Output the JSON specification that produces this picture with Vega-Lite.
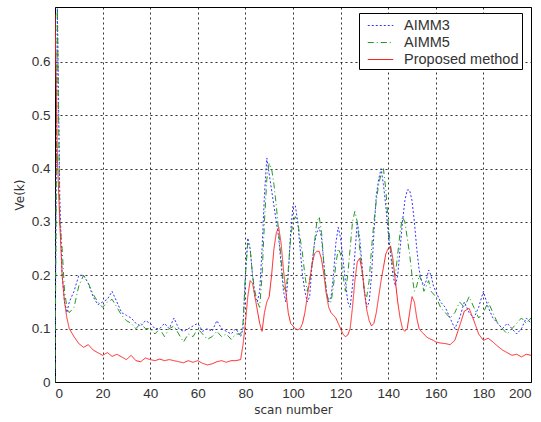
{
  "$schema": "https://vega.github.io/schema/vega-lite/v6.json",
  "width": 476,
  "height": 375,
  "autosize": {"type": "none"},
  "padding": {"left": 55, "top": 7, "right": 10, "bottom": 40},
  "background": "white",
  "config": {
    "font": "Liberation Sans",
    "view": {"stroke": "black", "strokeWidth": 1}
  },
  "data": {"values": [
    {"x":0,"AIMM3":0.02,"AIMM5":0.0,"Proposed method":0.69},
    {"x":1,"AIMM3":0.7,"AIMM5":0.7,"Proposed method":0.42},
    {"x":2,"AIMM3":0.35,"AIMM5":0.3,"Proposed method":0.3},
    {"x":3,"AIMM3":0.2,"AIMM5":0.25,"Proposed method":0.2},
    {"x":4,"AIMM3":0.15,"AIMM5":0.17,"Proposed method":0.15},
    {"x":5,"AIMM3":0.13,"AIMM5":0.14,"Proposed method":0.12},
    {"x":6,"AIMM3":0.15,"AIMM5":0.13,"Proposed method":0.1},
    {"x":8,"AIMM3":0.17,"AIMM5":0.14,"Proposed method":0.085},
    {"x":10,"AIMM3":0.2,"AIMM5":0.18,"Proposed method":0.072},
    {"x":12,"AIMM3":0.2,"AIMM5":0.2,"Proposed method":0.065},
    {"x":14,"AIMM3":0.185,"AIMM5":0.185,"Proposed method":0.07},
    {"x":16,"AIMM3":0.16,"AIMM5":0.165,"Proposed method":0.06},
    {"x":18,"AIMM3":0.145,"AIMM5":0.15,"Proposed method":0.055},
    {"x":20,"AIMM3":0.15,"AIMM5":0.14,"Proposed method":0.05},
    {"x":22,"AIMM3":0.155,"AIMM5":0.15,"Proposed method":0.055},
    {"x":24,"AIMM3":0.17,"AIMM5":0.155,"Proposed method":0.048},
    {"x":26,"AIMM3":0.15,"AIMM5":0.14,"Proposed method":0.052},
    {"x":28,"AIMM3":0.13,"AIMM5":0.125,"Proposed method":0.047},
    {"x":30,"AIMM3":0.125,"AIMM5":0.115,"Proposed method":0.042},
    {"x":32,"AIMM3":0.12,"AIMM5":0.11,"Proposed method":0.05},
    {"x":34,"AIMM3":0.11,"AIMM5":0.1,"Proposed method":0.04},
    {"x":36,"AIMM3":0.105,"AIMM5":0.11,"Proposed method":0.038},
    {"x":38,"AIMM3":0.115,"AIMM5":0.1,"Proposed method":0.045},
    {"x":40,"AIMM3":0.11,"AIMM5":0.1,"Proposed method":0.042},
    {"x":42,"AIMM3":0.1,"AIMM5":0.09,"Proposed method":0.04},
    {"x":44,"AIMM3":0.1,"AIMM5":0.1,"Proposed method":0.043},
    {"x":46,"AIMM3":0.11,"AIMM5":0.085,"Proposed method":0.04},
    {"x":48,"AIMM3":0.1,"AIMM5":0.1,"Proposed method":0.042},
    {"x":50,"AIMM3":0.12,"AIMM5":0.105,"Proposed method":0.04},
    {"x":52,"AIMM3":0.1,"AIMM5":0.09,"Proposed method":0.038},
    {"x":54,"AIMM3":0.095,"AIMM5":0.075,"Proposed method":0.036},
    {"x":56,"AIMM3":0.1,"AIMM5":0.09,"Proposed method":0.04},
    {"x":58,"AIMM3":0.105,"AIMM5":0.085,"Proposed method":0.037},
    {"x":60,"AIMM3":0.11,"AIMM5":0.1,"Proposed method":0.04},
    {"x":62,"AIMM3":0.095,"AIMM5":0.09,"Proposed method":0.035},
    {"x":64,"AIMM3":0.1,"AIMM5":0.08,"Proposed method":0.032},
    {"x":66,"AIMM3":0.095,"AIMM5":0.085,"Proposed method":0.034},
    {"x":68,"AIMM3":0.115,"AIMM5":0.095,"Proposed method":0.038},
    {"x":70,"AIMM3":0.1,"AIMM5":0.085,"Proposed method":0.04},
    {"x":72,"AIMM3":0.095,"AIMM5":0.09,"Proposed method":0.037},
    {"x":74,"AIMM3":0.09,"AIMM5":0.08,"Proposed method":0.04},
    {"x":76,"AIMM3":0.1,"AIMM5":0.09,"Proposed method":0.04},
    {"x":78,"AIMM3":0.085,"AIMM5":0.09,"Proposed method":0.042},
    {"x":79,"AIMM3":0.1,"AIMM5":0.11,"Proposed method":0.07},
    {"x":80,"AIMM3":0.2,"AIMM5":0.2,"Proposed method":0.11},
    {"x":81,"AIMM3":0.27,"AIMM5":0.26,"Proposed method":0.16},
    {"x":82,"AIMM3":0.25,"AIMM5":0.25,"Proposed method":0.19},
    {"x":83,"AIMM3":0.2,"AIMM5":0.2,"Proposed method":0.185},
    {"x":84,"AIMM3":0.16,"AIMM5":0.17,"Proposed method":0.16},
    {"x":85,"AIMM3":0.15,"AIMM5":0.15,"Proposed method":0.135},
    {"x":86,"AIMM3":0.17,"AIMM5":0.14,"Proposed method":0.11},
    {"x":87,"AIMM3":0.25,"AIMM5":0.2,"Proposed method":0.095},
    {"x":88,"AIMM3":0.35,"AIMM5":0.3,"Proposed method":0.13},
    {"x":89,"AIMM3":0.42,"AIMM5":0.38,"Proposed method":0.15},
    {"x":90,"AIMM3":0.39,"AIMM5":0.41,"Proposed method":0.16},
    {"x":91,"AIMM3":0.36,"AIMM5":0.4,"Proposed method":0.2},
    {"x":92,"AIMM3":0.33,"AIMM5":0.37,"Proposed method":0.25},
    {"x":93,"AIMM3":0.3,"AIMM5":0.33,"Proposed method":0.28},
    {"x":94,"AIMM3":0.27,"AIMM5":0.28,"Proposed method":0.29},
    {"x":95,"AIMM3":0.22,"AIMM5":0.23,"Proposed method":0.26},
    {"x":96,"AIMM3":0.17,"AIMM5":0.18,"Proposed method":0.21},
    {"x":97,"AIMM3":0.15,"AIMM5":0.17,"Proposed method":0.17},
    {"x":98,"AIMM3":0.2,"AIMM5":0.21,"Proposed method":0.13},
    {"x":99,"AIMM3":0.28,"AIMM5":0.27,"Proposed method":0.11},
    {"x":100,"AIMM3":0.33,"AIMM5":0.3,"Proposed method":0.105},
    {"x":101,"AIMM3":0.33,"AIMM5":0.31,"Proposed method":0.1},
    {"x":102,"AIMM3":0.3,"AIMM5":0.3,"Proposed method":0.098},
    {"x":103,"AIMM3":0.25,"AIMM5":0.27,"Proposed method":0.1},
    {"x":104,"AIMM3":0.2,"AIMM5":0.24,"Proposed method":0.11},
    {"x":105,"AIMM3":0.17,"AIMM5":0.2,"Proposed method":0.13},
    {"x":106,"AIMM3":0.15,"AIMM5":0.17,"Proposed method":0.16},
    {"x":107,"AIMM3":0.16,"AIMM5":0.19,"Proposed method":0.19},
    {"x":108,"AIMM3":0.22,"AIMM5":0.22,"Proposed method":0.22},
    {"x":109,"AIMM3":0.26,"AIMM5":0.26,"Proposed method":0.24},
    {"x":110,"AIMM3":0.28,"AIMM5":0.3,"Proposed method":0.245},
    {"x":111,"AIMM3":0.29,"AIMM5":0.31,"Proposed method":0.245},
    {"x":112,"AIMM3":0.27,"AIMM5":0.28,"Proposed method":0.23},
    {"x":113,"AIMM3":0.22,"AIMM5":0.22,"Proposed method":0.2},
    {"x":114,"AIMM3":0.17,"AIMM5":0.17,"Proposed method":0.165},
    {"x":115,"AIMM3":0.15,"AIMM5":0.15,"Proposed method":0.14},
    {"x":116,"AIMM3":0.16,"AIMM5":0.15,"Proposed method":0.13},
    {"x":117,"AIMM3":0.2,"AIMM5":0.18,"Proposed method":0.125},
    {"x":118,"AIMM3":0.26,"AIMM5":0.22,"Proposed method":0.12},
    {"x":119,"AIMM3":0.29,"AIMM5":0.25,"Proposed method":0.11},
    {"x":120,"AIMM3":0.27,"AIMM5":0.24,"Proposed method":0.1},
    {"x":121,"AIMM3":0.23,"AIMM5":0.2,"Proposed method":0.09},
    {"x":122,"AIMM3":0.19,"AIMM5":0.17,"Proposed method":0.085},
    {"x":123,"AIMM3":0.15,"AIMM5":0.2,"Proposed method":0.088},
    {"x":124,"AIMM3":0.14,"AIMM5":0.25,"Proposed method":0.1},
    {"x":125,"AIMM3":0.18,"AIMM5":0.3,"Proposed method":0.14},
    {"x":126,"AIMM3":0.24,"AIMM5":0.32,"Proposed method":0.19},
    {"x":127,"AIMM3":0.3,"AIMM5":0.3,"Proposed method":0.225},
    {"x":128,"AIMM3":0.27,"AIMM5":0.25,"Proposed method":0.232},
    {"x":129,"AIMM3":0.22,"AIMM5":0.21,"Proposed method":0.21},
    {"x":130,"AIMM3":0.17,"AIMM5":0.17,"Proposed method":0.17},
    {"x":131,"AIMM3":0.14,"AIMM5":0.16,"Proposed method":0.135},
    {"x":132,"AIMM3":0.15,"AIMM5":0.19,"Proposed method":0.115},
    {"x":133,"AIMM3":0.2,"AIMM5":0.25,"Proposed method":0.105},
    {"x":134,"AIMM3":0.28,"AIMM5":0.3,"Proposed method":0.11},
    {"x":135,"AIMM3":0.35,"AIMM5":0.34,"Proposed method":0.13},
    {"x":136,"AIMM3":0.38,"AIMM5":0.37,"Proposed method":0.16},
    {"x":137,"AIMM3":0.4,"AIMM5":0.39,"Proposed method":0.19},
    {"x":138,"AIMM3":0.37,"AIMM5":0.4,"Proposed method":0.215},
    {"x":139,"AIMM3":0.33,"AIMM5":0.36,"Proposed method":0.24},
    {"x":140,"AIMM3":0.28,"AIMM5":0.3,"Proposed method":0.25},
    {"x":141,"AIMM3":0.24,"AIMM5":0.25,"Proposed method":0.255},
    {"x":142,"AIMM3":0.2,"AIMM5":0.21,"Proposed method":0.23},
    {"x":143,"AIMM3":0.18,"AIMM5":0.2,"Proposed method":0.19},
    {"x":144,"AIMM3":0.2,"AIMM5":0.24,"Proposed method":0.15},
    {"x":145,"AIMM3":0.25,"AIMM5":0.28,"Proposed method":0.12},
    {"x":146,"AIMM3":0.3,"AIMM5":0.31,"Proposed method":0.1},
    {"x":147,"AIMM3":0.34,"AIMM5":0.3,"Proposed method":0.095},
    {"x":148,"AIMM3":0.36,"AIMM5":0.27,"Proposed method":0.1},
    {"x":149,"AIMM3":0.36,"AIMM5":0.24,"Proposed method":0.13},
    {"x":150,"AIMM3":0.34,"AIMM5":0.2,"Proposed method":0.16},
    {"x":151,"AIMM3":0.3,"AIMM5":0.17,"Proposed method":0.15},
    {"x":152,"AIMM3":0.25,"AIMM5":0.18,"Proposed method":0.12},
    {"x":153,"AIMM3":0.21,"AIMM5":0.2,"Proposed method":0.1},
    {"x":154,"AIMM3":0.19,"AIMM5":0.19,"Proposed method":0.094},
    {"x":155,"AIMM3":0.18,"AIMM5":0.17,"Proposed method":0.09},
    {"x":156,"AIMM3":0.19,"AIMM5":0.18,"Proposed method":0.085},
    {"x":157,"AIMM3":0.21,"AIMM5":0.19,"Proposed method":0.082},
    {"x":158,"AIMM3":0.2,"AIMM5":0.17,"Proposed method":0.08},
    {"x":159,"AIMM3":0.18,"AIMM5":0.165,"Proposed method":0.078},
    {"x":160,"AIMM3":0.17,"AIMM5":0.16,"Proposed method":0.075},
    {"x":162,"AIMM3":0.15,"AIMM5":0.14,"Proposed method":0.073},
    {"x":164,"AIMM3":0.14,"AIMM5":0.13,"Proposed method":0.072},
    {"x":166,"AIMM3":0.12,"AIMM5":0.12,"Proposed method":0.07},
    {"x":168,"AIMM3":0.1,"AIMM5":0.13,"Proposed method":0.078},
    {"x":170,"AIMM3":0.12,"AIMM5":0.15,"Proposed method":0.105},
    {"x":172,"AIMM3":0.15,"AIMM5":0.14,"Proposed method":0.133},
    {"x":174,"AIMM3":0.13,"AIMM5":0.16,"Proposed method":0.138},
    {"x":176,"AIMM3":0.12,"AIMM5":0.14,"Proposed method":0.115},
    {"x":178,"AIMM3":0.14,"AIMM5":0.12,"Proposed method":0.09},
    {"x":180,"AIMM3":0.17,"AIMM5":0.13,"Proposed method":0.078},
    {"x":182,"AIMM3":0.14,"AIMM5":0.15,"Proposed method":0.082},
    {"x":184,"AIMM3":0.12,"AIMM5":0.13,"Proposed method":0.075},
    {"x":186,"AIMM3":0.11,"AIMM5":0.11,"Proposed method":0.067},
    {"x":188,"AIMM3":0.1,"AIMM5":0.1,"Proposed method":0.06},
    {"x":190,"AIMM3":0.11,"AIMM5":0.09,"Proposed method":0.055},
    {"x":192,"AIMM3":0.1,"AIMM5":0.1,"Proposed method":0.05},
    {"x":194,"AIMM3":0.09,"AIMM5":0.11,"Proposed method":0.052},
    {"x":196,"AIMM3":0.1,"AIMM5":0.12,"Proposed method":0.047},
    {"x":198,"AIMM3":0.12,"AIMM5":0.11,"Proposed method":0.052},
    {"x":200,"AIMM3":0.11,"AIMM5":0.12,"Proposed method":0.05}
  ]},
  "transform": [
    {"fold": ["AIMM3", "AIMM5", "Proposed method"], "as": ["series", "value"]}
  ],
  "mark": {"type": "line", "strokeWidth": 1, "clip": true},
  "encoding": {
    "x": {
      "field": "x", "type": "quantitative",
      "scale": {"domain": [0, 200], "nice": false},
      "axis": {
        "values": [0, 20, 40, 60, 80, 100, 120, 140, 160, 180, 200],
        "title": "scan number",
        "titleFont": "DejaVu Sans",
        "titleFontWeight": "normal", "titleFontSize": 12, "titleColor": "#333",
        "titlePadding": 5,
        "labelFontSize": 13.5, "labelColor": "#333",
        "domain": false, "ticks": false, "labelPadding": 4,
        "grid": true, "gridColor": "#000", "gridDash": [2, 3], "gridOpacity": 0.8
      }
    },
    "y": {
      "field": "value", "type": "quantitative",
      "scale": {"domain": [0, 0.703], "nice": false},
      "axis": {
        "values": [0, 0.1, 0.2, 0.3, 0.4, 0.5, 0.6],
        "format": ".1~f",
        "title": "Ve(k)",
        "titleFont": "DejaVu Sans",
        "titleFontWeight": "normal", "titleFontSize": 12, "titleColor": "#333",
        "titlePadding": 5,
        "labelFontSize": 13.5, "labelColor": "#333",
        "domain": false, "ticks": false, "labelPadding": 5,
        "grid": true, "gridColor": "#000", "gridDash": [2, 3], "gridOpacity": 0.8
      }
    },
    "color": {
      "field": "series", "type": "nominal",
      "scale": {"domain": ["AIMM3", "AIMM5", "Proposed method"], "range": ["#3333ff", "#229922", "#ff2222"]},
      "legend": {
        "title": null, "orient": "none", "legendX": 304, "legendY": 6,
        "strokeColor": "black", "fillColor": "white", "padding": 3,
        "symbolType": "M-1.5,0L1.5,0", "symbolSize": 289, "symbolStrokeWidth": 1.2,
        "symbolOffset": 9, "labelOffset": 14,
        "labelFontSize": 14.5, "labelColor": "#333", "rowPadding": 1
      }
    },
    "strokeDash": {
      "field": "series", "type": "nominal",
      "scale": {"domain": ["AIMM3", "AIMM5", "Proposed method"], "range": [[2, 2], [6, 3, 1, 3], [1, 0]]},
      "legend": null
    }
  }
}
